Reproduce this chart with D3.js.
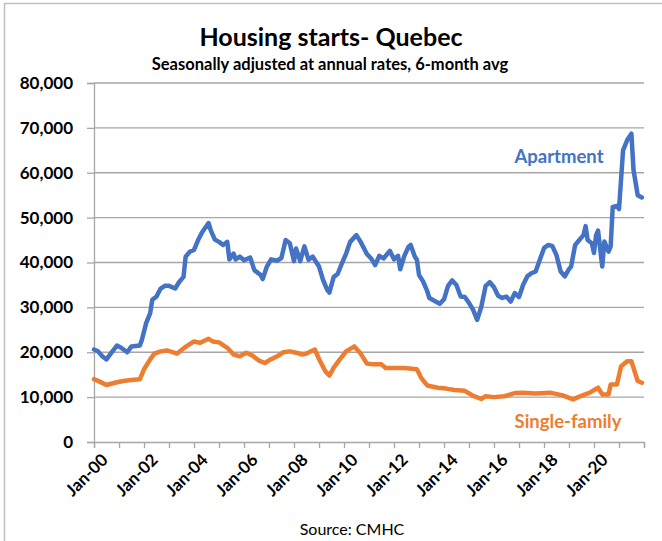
<!DOCTYPE html>
<html>
<head>
<meta charset="utf-8">
<script src="https://cdn.jsdelivr.net/npm/d3@7"></script>
<style>
  body { margin: 0; background: #fff; }
  text { font-family: Lato, "Open Sans", sans-serif; }
</style>
</head>
<body>
<div id="chart"></div>
<script>
// values, thousands of units
var aptMonths = ['2000-01','2000-03','2000-05','2000-07','2000-09','2000-12','2001-02','2001-05','2001-07','2001-11','2001-12',
  '2002-02','2002-04','2002-05','2002-07','2002-09','2002-11','2003-01','2003-04','2003-06','2003-08','2003-09','2003-11',
  '2004-01','2004-03','2004-05','2004-08','2004-09','2004-11','2005-01','2005-03','2005-05','2005-06','2005-08','2005-09','2005-11',
  '2006-01','2006-04','2006-06','2006-09','2006-10','2006-12','2007-02','2007-05','2007-07','2007-09','2007-11',
  '2008-01','2008-02','2008-04','2008-06','2008-08','2008-10','2009-01','2009-03','2009-05','2009-06','2009-08','2009-10','2009-12',
  '2010-02','2010-04','2010-07','2010-09','2010-12','2011-02','2011-04','2011-06','2011-08','2011-11',
  '2012-01','2012-03','2012-04','2012-06','2012-08','2012-09','2012-11','2012-12','2013-01','2013-03','2013-05','2013-06','2013-09','2013-11',
  '2014-01','2014-03','2014-05','2014-07','2014-09','2014-11','2015-01','2015-03','2015-05','2015-07','2015-09','2015-11',
  '2016-01','2016-03','2016-05','2016-07','2016-09','2016-11','2017-01','2017-03','2017-05','2017-07','2017-09','2017-11',
  '2018-01','2018-03','2018-05','2018-07','2018-09','2018-11','2019-01','2019-02','2019-04','2019-06','2019-08','2019-09','2019-10','2019-12',
  '2020-01','2020-02','2020-03','2020-05','2020-06','2020-08','2020-09','2020-10','2020-12','2021-01','2021-03','2021-05','2021-07','2021-08','2021-10','2021-12']
var aptValues = [20.6,20.2,19.1,18.4,19.7,21.5,21.0,20.0,21.3,21.5,22.8,
  26.5,28.7,31.7,32.4,34.2,34.8,34.8,34.2,35.7,36.8,41.3,42.4,
  42.8,45.0,46.8,48.8,47.2,45.1,44.6,43.9,44.6,40.7,42.0,40.7,41.3,
  40.5,41.1,38.3,37.2,36.3,39.1,40.7,40.4,41.0,45.0,44.3,
  40.3,43.1,40.3,43.6,40.6,41.3,39.1,36.1,33.9,33.3,36.7,37.5,39.8,
  42.0,44.6,46.1,44.6,41.9,40.9,39.4,41.5,40.9,42.6,
  40.7,41.5,38.5,41.5,43.5,43.9,41.3,40.6,37.2,35.8,33.6,32.1,31.3,30.8,
  31.8,34.8,36.0,35.0,32.4,32.3,31.0,29.5,27.2,30.2,34.8,35.6,
  34.5,32.6,32.1,32.4,31.3,33.2,32.3,35.0,36.9,37.6,38.0,40.6,
  43.2,43.9,43.7,41.7,38.0,36.9,38.5,39.1,43.9,45.0,46.1,48.1,45.0,44.3,
  42.1,46.1,47.1,39.1,44.7,42.4,43.6,52.4,52.6,51.9,65.0,67.3,68.7,60.6,55.0,54.5]

var sfMonths = ['2000-01','2000-04','2000-07','2000-11','2001-03','2001-07','2001-11','2002-01','2002-04','2002-06','2002-09','2002-12',
  '2003-05','2003-09','2004-01','2004-04','2004-08','2004-10','2005-01','2005-05','2005-08','2005-11','2006-02','2006-05','2006-08','2006-11',
  '2007-01','2007-05','2007-08','2007-11','2008-02','2008-05','2008-07','2008-11','2009-01','2009-04','2009-06','2009-08','2009-11',
  '2010-02','2010-06','2010-09','2010-12','2011-03','2011-07','2011-09','2012-02','2012-06','2012-12','2013-02','2013-05','2013-10',
  '2014-02','2014-06','2014-11','2015-03','2015-07','2015-09','2016-01','2016-06','2016-11','2017-03','2017-09','2018-04','2018-10',
  '2019-03','2019-06','2019-11','2020-03','2020-05','2020-08','2020-09','2020-12','2021-02','2021-05','2021-07','2021-09','2021-10','2021-12']
var sfValues = [14.0,13.4,12.7,13.2,13.6,13.8,14.0,16.2,18.4,19.7,20.2,20.4,
  19.7,21.2,22.4,22.1,23.0,22.4,22.2,21.0,19.5,19.1,19.9,19.3,18.2,17.6,
  18.2,19.1,20.0,20.2,19.9,19.5,19.7,20.6,18.5,15.8,14.8,16.5,18.4,
  20.2,21.3,19.7,17.5,17.3,17.3,16.5,16.5,16.5,16.2,14.3,12.6,12.1,
  11.9,11.6,11.4,10.3,9.6,10.2,10.0,10.2,10.9,11.0,10.8,11.0,10.4,
  9.5,10.1,11.0,12.1,10.6,10.6,12.8,12.8,16.9,18.0,18.0,15.0,13.6,13.2]

var yTicks = [0,10000,20000,30000,40000,50000,60000,70000,80000]
var xLabelYears = [2000,2002,2004,2006,2008,2010,2012,2014,2016,2018,2020]

var W = 662, H = 541
var parseMonth = d3.timeParse('%Y-%m')
var gridColor = '#a6a6a6'
var blue = '#4472C4', orange = '#ED7D31'

var svg = d3.select('#chart').append('svg').attr('width', W).attr('height', H)

// outer frame
svg.append('rect').attr('x', 4.5).attr('y', 3.5).attr('width', W + 10).attr('height', H + 10)
  .attr('fill', 'none').attr('stroke', '#bfbfbf').attr('stroke-width', 1.5)

var x = d3.scaleTime().domain([new Date(2000, 0, 1), new Date(2022, 0, 1)]).range([94, 644])
var y = d3.scaleLinear().domain([0, 80000]).range([442, 83])

// gridlines
svg.append('g').selectAll('line').data(yTicks.slice(1)).enter().append('line')
  .attr('x1', 94).attr('x2', 644)
  .attr('y1', function(d){return y(d)}).attr('y2', function(d){return y(d)})
  .attr('stroke', gridColor).attr('stroke-width', 1.3)

// y axis
var yaxis = svg.append('g').attr('transform', 'translate(94,0)')
  .call(d3.axisLeft(y).tickValues(yTicks).tickSize(7).tickPadding(14).tickFormat(d3.format(',')))
yaxis.select('.domain').attr('stroke', gridColor).attr('stroke-width', 1.3)
yaxis.selectAll('.tick line').attr('stroke', gridColor).attr('stroke-width', 1.3)
yaxis.selectAll('text').style('font-size', '17px').style('font-weight', 'bold').attr('fill', '#000')
  .style('font-family', 'Lato, sans-serif')

// x axis: yearly ticks, labels every 2 years
var xaxis = svg.append('g').attr('transform', 'translate(0,442)')
  .call(d3.axisBottom(x).ticks(d3.timeYear.every(1)).tickSize(6).tickFormat(''))
xaxis.select('.domain').attr('stroke', gridColor).attr('stroke-width', 1.3)
xaxis.selectAll('.tick line').attr('stroke', gridColor).attr('stroke-width', 1.3)

svg.append('g').selectAll('text').data(xLabelYears).enter().append('text')
  .attr('transform', function(d){return 'translate(' + (x(new Date(d, 0, 1)) + 6) + ',452) rotate(-45)'})
  .attr('text-anchor', 'end').attr('dy', '0.75em')
  .style('font-size', '17px').style('font-weight', 'bold')
  .text(function(d){return 'Jan-' + String(d).slice(2)})

// lines
var line = d3.line()
  .x(function(d){return x(d.date)})
  .y(function(d){return y(d.value * 1000)})
  .curve(d3.curveLinear)

function series(months, values) {
  return months.map(function(m, i){return {date: parseMonth(m), value: values[i]}})
}

svg.append('path').datum(series(sfMonths, sfValues))
  .attr('d', line).attr('fill', 'none').attr('stroke', orange)
  .attr('stroke-width', 4.5).attr('stroke-linejoin', 'round').attr('stroke-linecap', 'round')
svg.append('path').datum(series(aptMonths, aptValues))
  .attr('d', line).attr('fill', 'none').attr('stroke', blue)
  .attr('stroke-width', 4.5).attr('stroke-linejoin', 'round').attr('stroke-linecap', 'round')

// series labels
svg.append('text').attr('x', 559).attr('y', 163).attr('text-anchor', 'middle')
  .style('font-size', '18.5px').style('font-weight', 'bold').attr('fill', blue).text('Apartment')
svg.append('text').attr('x', 568).attr('y', 428).attr('text-anchor', 'middle')
  .style('font-size', '18.5px').style('font-weight', 'bold').attr('fill', orange).text('Single-family')

// titles
svg.append('text').attr('x', 331).attr('y', 46).attr('text-anchor', 'middle')
  .style('font-size', '25px').style('font-weight', 'bold').text('Housing starts- Quebec')
svg.append('text').attr('x', 330).attr('y', 70).attr('text-anchor', 'middle')
  .style('font-size', '16.5px').style('font-weight', 'bold').text('Seasonally adjusted at annual rates, 6-month avg')
svg.append('text').attr('x', 352).attr('y', 535).attr('text-anchor', 'middle')
  .style('font-size', '16px').text('Source: CMHC')
</script>
</body>
</html>
